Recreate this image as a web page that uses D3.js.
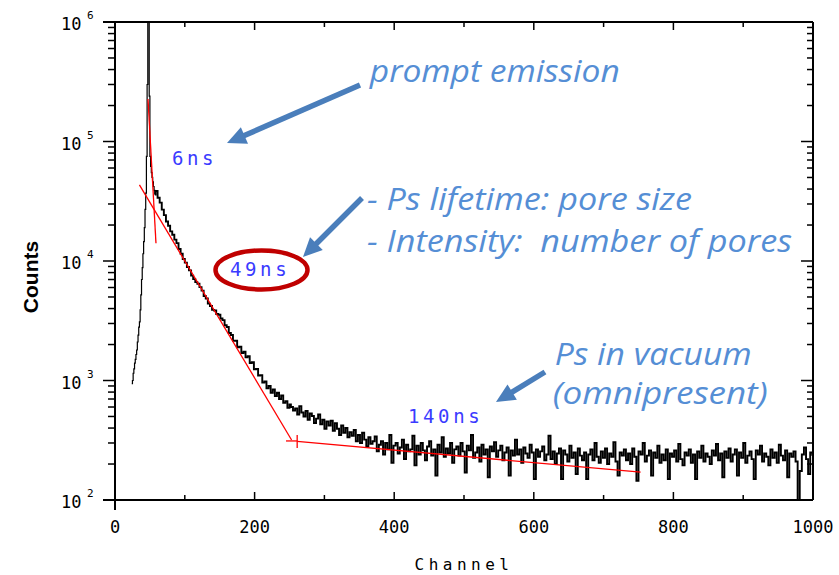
<!DOCTYPE html>
<html>
<head>
<meta charset="utf-8">
<script src="https://cdn.jsdelivr.net/npm/d3@7"></script>
<style>
  html, body { margin: 0; padding: 0; background: #fff; }
  svg { display: block; }
</style>
</head>
<body>
<svg id="chart" width="839" height="575"></svg>
<script>
// ── Spectrum (counts per channel bin) ──────────────────────────────────────
// rising edge + prompt peak, one value per channel from ch 24
const riseStart = 24;
const riseCounts = [
  940, 1000, 1150, 1250, 1400, 1500, 1650, 1800, 2100, 2400,
  2800, 3100, 3900, 5200, 7000, 8800, 11500, 14500, 19000, 27000,
  37000, 75000, 300000, 3000000, 3000000, 240000, 75000, 62000, 55000, 50000,
  46000, 42000, 39000, 36000
];
// decay, every 3 channels from ch 58
const decayStart = 58;
const decayCounts = [
  38500, 33800, 30800, 26900, 24200, 21400, 19700, 17700, 16600, 15100,
  14100, 12600, 11500, 10400, 9700, 8900, 8350, 7550, 7050, 6650,
  6450, 6050, 5650, 5100, 4850, 4400, 4200, 3900, 3850, 3600,
  3550, 3300, 3200, 2900, 2800, 2500, 2400, 2150, 2150, 1900,
  1920, 1700, 1740, 1560, 1600, 1400, 1420, 1240, 1250, 1100,
  1110, 960, 980, 860, 900, 790, 840, 740, 790, 700,
  750, 650, 670, 590, 630
];
// noisy tail, every 3 channels from ch 252
const tailStart = 252;
const tailCounts = [
  600, 560, 585, 520, 610, 540, 500, 555, 470, 530,
  505, 440, 480, 520, 430, 470, 395, 455, 420, 460,
  380, 440, 395, 350, 420, 365, 400, 335, 370, 345,
  385, 310, 350, 300, 365, 320, 280, 335, 295, 310,
  340, 255, 290, 310, 240, 300, 265, 350, 205, 285,
  300, 245, 275, 320, 220, 290, 255, 265, 345, 195,
  285, 240, 300, 260, 215, 280, 310, 235, 265, 160,
  290, 250, 335, 230, 270, 245, 300, 205, 265, 280,
  235, 300, 255, 170, 285, 260, 350, 225, 250, 275,
  210, 290, 240, 265, 155, 280, 255, 305, 230, 260,
  285, 215, 250, 275, 160, 260, 235, 320, 240, 265,
  205, 275, 245, 225, 290, 250, 150, 265, 230, 255,
  280, 215, 240, 345, 220, 255, 200, 245, 270, 150,
  260, 240, 210, 285, 225, 250, 165, 270, 235, 215,
  250, 150, 240, 265, 215, 300, 230, 205, 255, 225,
  270, 200, 245, 230, 305, 210, 160, 250, 235, 265,
  215, 245, 200, 270, 230, 145, 255, 240, 300, 210,
  235, 260, 160, 250, 225, 285, 205, 240, 215, 265,
  150, 245, 230, 260, 210, 295, 220, 195, 250, 235,
  265, 205, 240, 150, 255, 225, 285, 210, 245, 230,
  200, 260, 235, 295, 215, 245, 155, 255, 225, 270,
  210, 240, 265, 160, 250, 225, 300, 205, 235, 255,
  220, 150, 260, 240, 285, 210, 245, 230, 195, 265,
  225, 250, 205, 290, 235, 215, 260, 155, 245, 230,
  255, 210, 100, 175, 240, 275, 220, 165, 250, 235
];

// ── Fit components (red), [channel, counts] end points ─────────────────────
const fitShort  = [[47.3, 227000], [58.7, 14100]];
const fitMedium = [[35, 43300], [253, 318]];
const fitLong   = [[261, 309], [753, 171]];
const fitMarks  = [[[245, 312], [261, 312]], [[261, 350], [261, 272]]];

// ── Axis ticks ────────────────────────────────────────────────────────────
const xMajor = [0, 200, 400, 600, 800, 1000];
const xMinor = [100, 300, 500, 700, 900];
const yExponents = [2, 3, 4, 5, 6];

// ── Annotations, anchored in data units [channel, counts] ─────────────────
const lifetimeLabels = [
  { text: '6ns',   at: [81.7, 63600] },
  { text: '49ns',  at: [164.8, 7480] },
  { text: '140ns', at: [419.8, 441] },
];
const notes = [
  { text: 'prompt emission',               at: [365, 314800], width: 250 },
  { text: '- Ps lifetime: pore size',      at: [361, 26700],  width: 325 },
  { text: '- Intensity:  number of pores', at: [361, 11900],  width: 425 },
  { text: 'Ps in vacuum',                  at: [630, 1349],   width: 197 },
  { text: '(omnipresent)',                 at: [627, 636],    width: 215 },
];
const arrows = [
  { from: [351, 297000], to: [160.5, 97100] },
  { from: [353.9, 33700], to: [269.3, 10800] },
  { from: [616, 1178], to: [545.8, 661] },
];
const highlight = { at: [209.9, 8410] };   // ring round the 49ns label

// ── Layout ────────────────────────────────────────────────────────────────
const plot = { left: 115, right: 813, top: 22, bottom: 500 };
const svg = d3.select('#chart');

const x = d3.scaleLinear().domain([0, 1000]).range([plot.left, plot.right]);
const y = d3.scaleLog().domain([100, 1e6]).range([plot.bottom, plot.top]);

const rise = riseCounts.map((c, i) => [riseStart + i, c]);
const rest = [
  ...decayCounts.map((c, i) => [decayStart + i * 3, c]),
  ...tailCounts.map((c, i) => [tailStart + i * 3, c]),
];
rest.unshift(rise[rise.length - 1]);

svg.append('defs').append('clipPath').attr('id', 'plot-clip')
  .append('rect')
    .attr('x', plot.left).attr('y', plot.top)
    .attr('width', plot.right - plot.left).attr('height', plot.bottom - plot.top);

const step = d3.line().x(d => x(d[0])).y(d => y(d[1])).curve(d3.curveStepAfter);

// black spectrum: thin rising edge, heavier decay + noisy tail
[[rise, 1.2], [rest, 1.9]].forEach(([pts, w]) => {
  svg.append('path')
    .datum(pts)
    .attr('clip-path', 'url(#plot-clip)')
    .attr('fill', 'none')
    .attr('stroke', '#000')
    .attr('stroke-width', w)
    .attr('d', step);
});

// red fit lines + range marks
const straight = d3.line().x(d => x(d[0])).y(d => y(d[1]));
[fitShort, fitMedium, fitLong, ...fitMarks].forEach(seg => {
  svg.append('path')
    .datum(seg)
    .attr('clip-path', 'url(#plot-clip)')
    .attr('fill', 'none')
    .attr('stroke', '#ff0000')
    .attr('stroke-width', 1.3)
    .attr('d', straight);
});

// ── Frame, ticks, labels ──────────────────────────────────────────────────
const axisG = svg.append('g').attr('stroke', '#000').attr('stroke-width', 2).attr('fill', 'none');
axisG.append('line').attr('x1', plot.left - 12).attr('x2', plot.right).attr('y1', plot.top).attr('y2', plot.top);
axisG.append('line').attr('x1', plot.left - 12).attr('x2', plot.right).attr('y1', plot.bottom).attr('y2', plot.bottom);
axisG.append('line').attr('x1', plot.left).attr('x2', plot.left).attr('y1', plot.top).attr('y2', plot.bottom + 10);
axisG.append('line').attr('x1', plot.right).attr('x2', plot.right).attr('y1', plot.top).attr('y2', plot.bottom);

const tickG = svg.append('g').attr('stroke', '#000').attr('stroke-width', 1.5);
// y ticks: outward on the left, inward on the right
yExponents.forEach((e, i) => {
  const v = Math.pow(10, e);
  tickG.append('line').attr('x1', plot.left - 12).attr('x2', plot.left).attr('y1', y(v)).attr('y2', y(v));
  tickG.append('line').attr('x1', plot.right - 12).attr('x2', plot.right).attr('y1', y(v)).attr('y2', y(v));
  if (i < yExponents.length - 1) {
    d3.range(2, 10).forEach(m => {
      const yy = y(m * v);
      tickG.append('line').attr('x1', plot.left - 7).attr('x2', plot.left).attr('y1', yy).attr('y2', yy);
      tickG.append('line').attr('x1', plot.right - 6).attr('x2', plot.right).attr('y1', yy).attr('y2', yy);
    });
  }
});
// x ticks: inward on bottom and top
xMajor.concat(xMinor).forEach(v => {
  const len = xMajor.includes(v) ? 8 : 5;
  tickG.append('line').attr('x1', x(v)).attr('x2', x(v)).attr('y1', plot.bottom).attr('y2', plot.bottom - len);
  tickG.append('line').attr('x1', x(v)).attr('x2', x(v)).attr('y1', plot.top).attr('y2', plot.top + len);
});

const tickFont = '"DejaVu Sans Mono", monospace';
svg.append('g').selectAll('text').data(xMajor).join('text')
  .attr('x', d => x(d)).attr('y', plot.bottom + 33)
  .attr('text-anchor', 'middle')
  .attr('font-family', tickFont).attr('font-size', 17)
  .text(d => d);

const yLab = svg.append('g').selectAll('text').data(yExponents).join('text')
  .attr('font-family', tickFont).attr('font-size', 17);
yLab.append('tspan').attr('x', 61).attr('y', d => y(Math.pow(10, d)) + 8).text('10');
yLab.append('tspan').attr('x', 87).attr('y', d => y(Math.pow(10, d)) - 3)
  .attr('font-size', 11).text(d => d);

svg.append('text')
  .attr('x', x(500)).attr('y', 570)
  .attr('text-anchor', 'middle')
  .attr('font-family', tickFont).attr('font-size', 16)
  .attr('letter-spacing', 4.5)
  .text('Channel');

svg.append('text')
  .attr('transform', `translate(38, ${(plot.top + plot.bottom) / 2 + 16}) rotate(-90)`)
  .attr('text-anchor', 'middle')
  .attr('font-family', '"Liberation Sans", Arial, sans-serif')
  .attr('font-weight', 'bold').attr('font-size', 21)
  .text('Counts');

// ── Annotations ───────────────────────────────────────────────────────────
svg.append('g').selectAll('text').data(lifetimeLabels).join('text')
  .attr('x', d => x(d.at[0])).attr('y', d => y(d.at[1]))
  .attr('font-family', tickFont).attr('font-size', 19)
  .attr('letter-spacing', 3.6)
  .attr('fill', '#3b3bff')
  .text(d => d.text);

svg.append('ellipse')
  .attr('cx', x(highlight.at[0])).attr('cy', y(highlight.at[1]))
  .attr('rx', 46).attr('ry', 19.5)
  .attr('fill', 'none').attr('stroke', '#c00000').attr('stroke-width', 4.5);

const arrowColor = '#4a7ebb';
arrows.forEach(a => {
  const x0 = x(a.from[0]), y0 = y(a.from[1]);
  const x1 = x(a.to[0]),   y1 = y(a.to[1]);
  const len = Math.hypot(x1 - x0, y1 - y0);
  const ux = (x1 - x0) / len, uy = (y1 - y0) / len;
  const head = 19, half = 9;
  const bx = x1 - ux * head, by = y1 - uy * head;
  svg.append('line')
    .attr('x1', x0).attr('y1', y0).attr('x2', bx + ux * 2).attr('y2', by + uy * 2)
    .attr('stroke', arrowColor).attr('stroke-width', 5.5);
  svg.append('path')
    .attr('d', `M${x1},${y1} L${bx - uy * half},${by + ux * half} L${bx + uy * half},${by - ux * half} Z`)
    .attr('fill', arrowColor);
});

svg.append('g').selectAll('text').data(notes).join('text')
  .attr('x', d => x(d.at[0])).attr('y', d => y(d.at[1]))
  .attr('font-family', '"Open Sans", sans-serif')
  .attr('font-style', 'italic')
  .attr('font-size', 31)
  .attr('fill', '#558ed5')
  .attr('textLength', d => d.width)
  .attr('lengthAdjust', 'spacingAndGlyphs')
  .style('white-space', 'pre')
  .text(d => d.text);
</script>
</body>
</html>
